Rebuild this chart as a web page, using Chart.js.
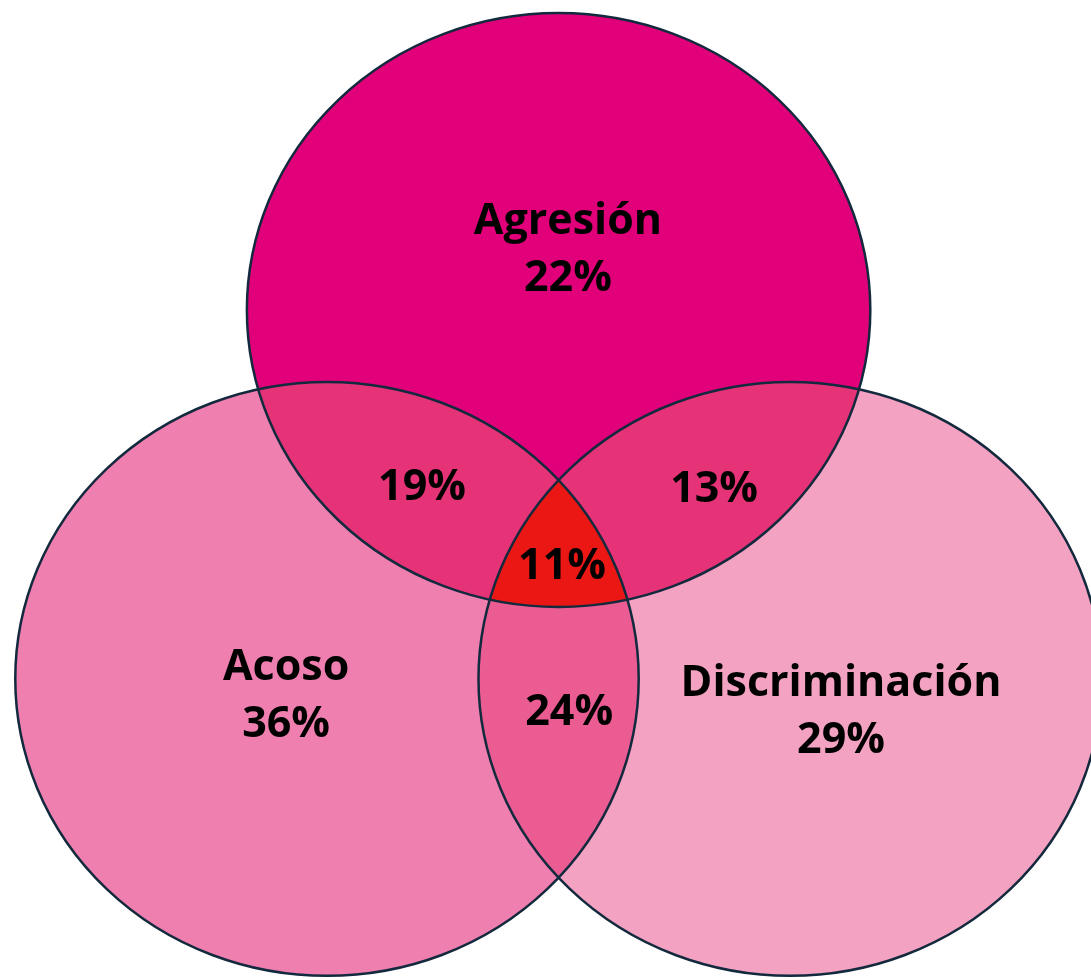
<!DOCTYPE html>
<html>
<head>
<meta charset="utf-8">
<script src="https://cdn.jsdelivr.net/npm/chart.js@4/dist/chart.umd.min.js"></script>
<style>
  html, body { margin: 0; padding: 0; background: #fff; }
  #wrap { width: 1091px; height: 980px; }
</style>
</head>
<body>
<div id="wrap"><canvas id="chart"></canvas></div>
<script>
// sets of the venn diagram
const setNames = ['Agresión', 'Acoso', 'Discriminación'];
const setShares = [22, 36, 29];
const setX = [0, -0.743, 0.743];
const setY = [0.828, -0.414, -0.414];
const setRadius = [1, 1, 1];

// overlaps: [a, b] pairs then the triple
const pairSets = [[0, 1], [0, 2], [1, 2]];
const pairShares = [19, 13, 24];
const tripleShare = 11;

// where the labels sit (chart units)
const setLabelX = [0.03, -0.874, 0.906];
const setLabelY = [1.03, -0.471, -0.527];
const pairLabelX = [-0.438, 0.499, 0.034];
const pairLabelY = [0.229, 0.222, -0.529];
const tripleLabelX = 0.011;
const tripleLabelY = -0.037;

const setColors = ['#e2007a', '#ee7faf', '#f3a2c1'];
const pairColors = ['#e63378', '#e63378', '#ea5c92'];
const tripleColor = '#ea1714';
const edgeColor = '#13293d';

function ellipseFor(chart, i) {
    const xs = chart.scales.x, ys = chart.scales.y;
    const cx = xs.getPixelForValue(setX[i]);
    const cy = ys.getPixelForValue(setY[i]);
    const rx = xs.getPixelForValue(setX[i] + setRadius[i]) - cx;
    const ry = cy - ys.getPixelForValue(setY[i] + setRadius[i]);
    const p = new Path2D();
    p.ellipse(cx, cy, rx, ry, 0, 0, Math.PI * 2);
    return p;
}

const vennPlugin = {
    id: 'venn',
    beforeDatasetsDraw(chart) {
        const ctx = chart.ctx;
        const paths = setNames.map((_, i) => ellipseFor(chart, i));

        paths.forEach((p, i) => {
            ctx.fillStyle = setColors[i];
            ctx.fill(p);
        });

        pairSets.forEach(([a, b], k) => {
            ctx.save();
            ctx.clip(paths[a]);
            ctx.fillStyle = pairColors[k];
            ctx.fill(paths[b]);
            ctx.restore();
        });

        ctx.save();
        ctx.clip(paths[0]);
        ctx.clip(paths[1]);
        ctx.fillStyle = tripleColor;
        ctx.fill(paths[2]);
        ctx.restore();

        ctx.lineWidth = 2.5;
        ctx.strokeStyle = edgeColor;
        paths.forEach(p => ctx.stroke(p));
    },
    afterDatasetsDraw(chart) {
        const ctx = chart.ctx;
        const xs = chart.scales.x, ys = chart.scales.y;
        ctx.save();
        ctx.fillStyle = '#000';
        ctx.textAlign = 'center';
        ctx.textBaseline = 'middle';
        ctx.font = 'bold 43px "Open Sans"';
        const gap = 57;

        setNames.forEach((name, i) => {
            const px = xs.getPixelForValue(setLabelX[i]);
            const py = ys.getPixelForValue(setLabelY[i]);
            ctx.fillText(name, px, py - gap / 2);
            ctx.fillText(setShares[i] + '%', px, py + gap / 2);
        });
        pairShares.forEach((v, k) => {
            ctx.fillText(v + '%', xs.getPixelForValue(pairLabelX[k]), ys.getPixelForValue(pairLabelY[k]));
        });
        ctx.fillText(tripleShare + '%', xs.getPixelForValue(tripleLabelX), ys.getPixelForValue(tripleLabelY));
        ctx.restore();
    }
};

new Chart(document.getElementById('chart'), {
    type: 'scatter',
    data: {
        datasets: [{
            label: 'Conjuntos',
            data: setX.map((x, i) => ({ x: x, y: setY[i] })),
            pointRadius: 0
        }]
    },
    options: {
        responsive: true,
        maintainAspectRatio: false,
        animation: false,
        layout: { padding: 0 },
        scales: {
            x: { type: 'linear', min: -1.792, max: 1.708, display: false },
            y: { type: 'linear', min: -1.428, max: 1.872, display: false }
        },
        plugins: {
            legend: { display: false },
            tooltip: { enabled: false }
        }
    },
    plugins: [vennPlugin]
});
</script>
</body>
</html>
